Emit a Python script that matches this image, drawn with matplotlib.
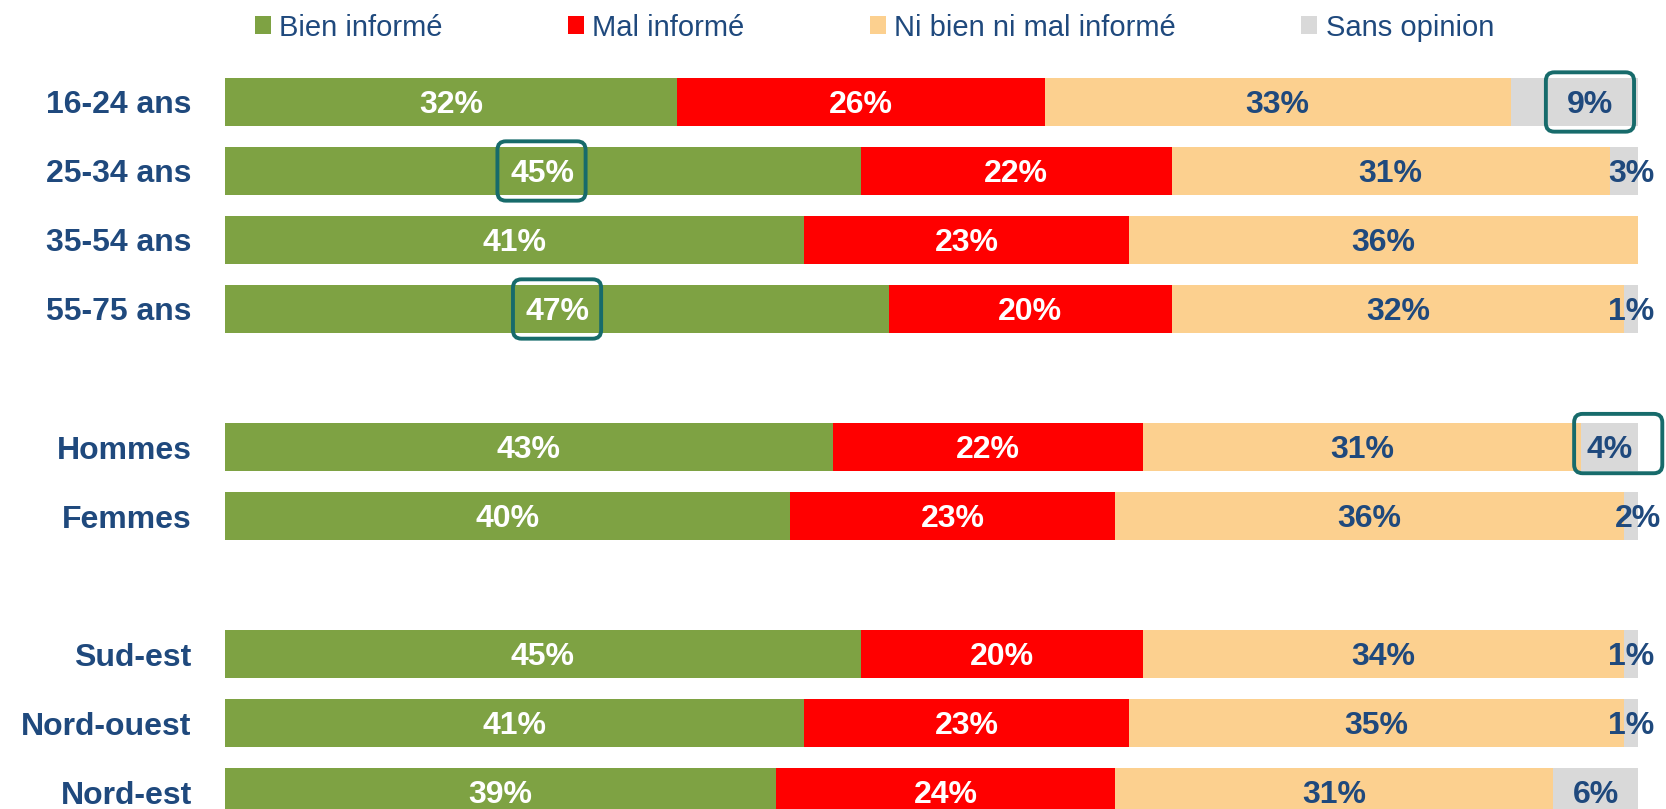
import matplotlib.pyplot as plt
from matplotlib.patches import FancyBboxPatch

plt.rcParams['font.family'] = ['Liberation Sans', 'DejaVu Sans']

# survey answers, one row per group
groups = ['16-24 ans', '25-34 ans', '35-54 ans', '55-75 ans',
          'Hommes', 'Femmes', 'Sud-est', 'Nord-ouest', 'Nord-est']
rows = [0, 1, 2, 3, 5, 6, 8, 9, 10]
bien = [32, 45, 41, 47, 43, 40, 45, 41, 39]
mal = [26, 22, 23, 20, 22, 23, 20, 23, 24]
ni_ni = [33, 31, 36, 32, 31, 36, 34, 35, 31]
sans = [9, 3, 0, 1, 4, 2, 1, 1, 6]

series = ['Bien informé', 'Mal informé', 'Ni bien ni mal informé', 'Sans opinion']
colors = ['#7EA243', '#FF0000', '#FCD08F', '#D9D9D9']
text_colors = ['white', 'white', '#1F497D', '#1F497D']

# highlighted labels: (group index, box centre on x, vertical nudge)
boxes = [(0, 96.6, 0.0), (1, 22.4, 0.0), (3, 23.5, 0.0), (4, 98.6, -0.05)]
label_shift = {(0, 3): 1.1}

navy = '#1F497D'
fig = plt.figure(figsize=(16.66, 8.09), dpi=100)
ax = fig.add_axes([225 / 1666, 0, 1413 / 1666, 1])

left = [0] * len(groups)
handles = []
for s, vals in enumerate([bien, mal, ni_ni, sans]):
    h = ax.barh(rows, vals, left=left, height=0.7, color=colors[s], label=series[s])
    handles.append(h)
    for i, v in enumerate(vals):
        if v > 0:
            x = left[i] + v / 2 + label_shift.get((i, s), 0)
            ax.text(x, rows[i] + 0.04, f'{v}%', ha='center', va='center',
                    fontsize=23, fontweight='bold', color=text_colors[s])
    left = [a + b for a, b in zip(left, vals)]

bw, bh = 6.24, 0.86
for i, xc, dy in boxes:
    ax.add_patch(FancyBboxPatch((xc - bw / 2, rows[i] + dy - bh / 2), bw, bh,
                                boxstyle='round,pad=0,rounding_size=0.6',
                                mutation_aspect=0.205, fill=False,
                                edgecolor='#176B6B', linewidth=2.8,
                                clip_on=False, zorder=5))

ax.set_xlim(0, 100)
ax.set_ylim(10.246, -1.478)
ax.set_yticks(rows, groups)
ax.tick_params(axis='y', length=0, pad=24, labelsize=23, labelcolor=navy)
for lab in ax.get_yticklabels():
    lab.set_fontweight('bold')
ax.set_xticks([])
for sp in ax.spines.values():
    sp.set_visible(False)

leg = fig.legend(handles=handles, loc='center left',
                 bbox_to_anchor=(255 / 1666, 1 - 27.6 / 809),
                 ncol=4, frameon=False, fontsize=21, borderpad=0,
                 borderaxespad=0, handlelength=0.55, handleheight=0.55,
                 handletextpad=0.28, columnspacing=4.3)
for t in leg.get_texts():
    t.set_color(navy)

fig.savefig('out.png', dpi=100)
